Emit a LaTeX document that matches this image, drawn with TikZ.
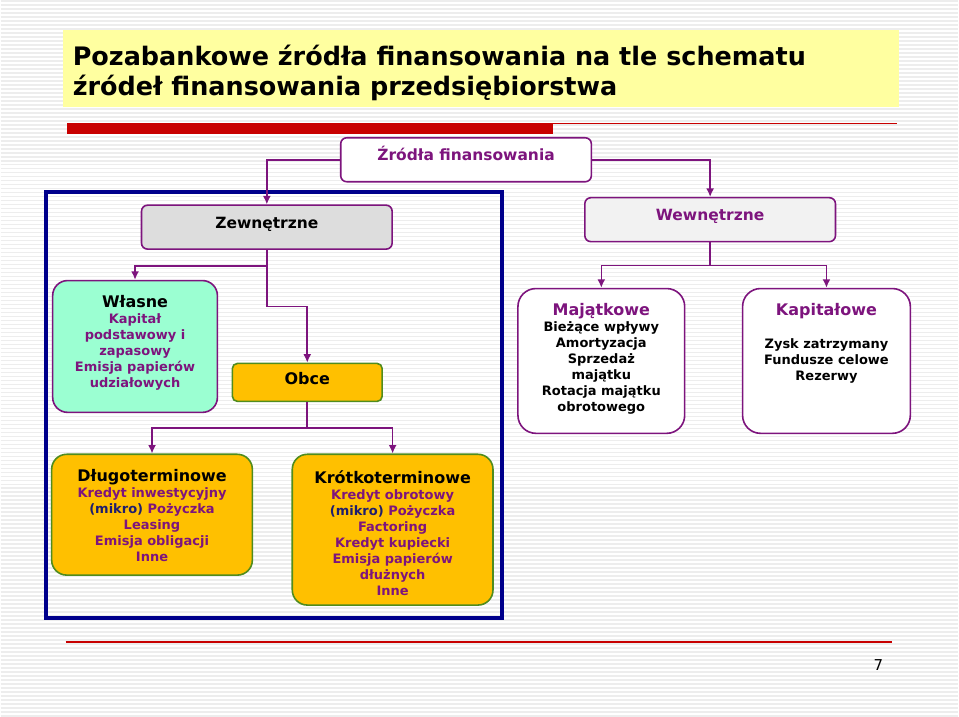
\documentclass[tikz,border=0pt]{standalone}
\usepackage{fontspec}
\setmainfont{DejaVu Sans}
\usetikzlibrary{arrows.meta}
\definecolor{fiolet}{RGB}{125,20,125}
\definecolor{granat}{RGB}{0,0,140}
\definecolor{ciemnyniebieski}{RGB}{30,30,110}
\definecolor{czerwony}{RGB}{200,0,0}
\definecolor{zolty}{RGB}{255,255,160}
\definecolor{pomarancz}{RGB}{255,192,0}
\definecolor{zielony}{RGB}{80,140,30}
\definecolor{morski}{RGB}{155,255,210}
\definecolor{szary}{RGB}{221,221,221}
\definecolor{jasnoszary}{RGB}{242,242,242}
\newcommand{\naglowek}{\fontsize{16}{16}\selectfont}

\begin{document}
\begin{tikzpicture}[x=1pt,y=-1pt]
\tikzstyle{lien}=[-{Latex[length=8.5pt,width=8pt]},draw=fiolet,line width=1.6pt]
\tikzset{kafel/.style={draw=#1,line width=1.6pt,inner sep=0pt,rounded corners=15pt},
kafel/.default={fiolet},
belka/.style={draw=fiolet,line width=1.6pt,inner sep=0pt,rounded corners=6pt,
  minimum width=251pt,minimum height=44pt,text height=11pt,text depth=9pt,
  font=\bfseries\fontsize{15.5}{17}\selectfont},
napis/.style={align=center,inner sep=0pt,font=\bfseries\fontsize{13}{16}\selectfont},
tytul/.style={inner sep=0pt,font=\bfseries\fontsize{25.5}{30}\selectfont}}

% tlo w paski
\fill[white] (0,0) rectangle (959,717);
\foreach \y in {1,5,...,717} \draw[gray!14,line width=1.5pt] (0,\y) -- (959,\y);
\useasboundingbox (0,0) rectangle (959,717);

% naglowek
\fill[zolty] (62,30) rectangle (900,107);
\node[tytul,anchor=base west] (tytul1) at (72,66) {Pozabankowe źródła finansowania na tle schematu};
\node[tytul,anchor=base west] (tytul2) at (72,96) {źródeł finansowania przedsiębiorstwa};
\fill[czerwony] (66,123) rectangle (553,134);
\draw[czerwony,line width=1.5pt] (553,123.5) -- (898,123.5);

% ramka zrodel zewnetrznych
\draw[granat,line width=4pt] (45,192) rectangle (502,619);

% gorne poziomy
\node[belka,fill=white,text=fiolet] (zrodla) at (466,160) {Źródła finansowania};
\node[belka,fill=szary] (zewn) at (266.5,227.5) {Zewnętrzne};
\node[belka,fill=jasnoszary,text=fiolet] (wewn) at (710.5,220) {Wewnętrzne};

\draw[lien] (zrodla.west) -| (zewn.north);
\draw[lien] (zrodla.east) -| (wewn.north);

% zewnetrzne
\node[kafel,fill=morski,minimum width=165pt,minimum height=132pt] (wlasne) at (134.5,347) {};
\node[napis,text=fiolet] (wlasneT) at (134.5,343.5)
  {{\color{black}\naglowek Własne}\\Kapitał\\podstawowy i\\zapasowy\\Emisja papierów\\udziałowych};
\node[kafel=zielony,fill=pomarancz,rounded corners=5pt,minimum width=150pt,minimum height=38pt,
  text height=11pt,text depth=7pt,font=\bfseries\fontsize{16}{17}\selectfont] (obce) at (307,383) {Obce};
\coordinate (zgiecie) at (266.5,307);

\draw[lien] (zewn.south) -- ++(0,16) -| (wlasne.north);
\draw[lien] (zewn.south) -- (zgiecie) -| (obce.north);

\node[kafel=zielony,fill=pomarancz,minimum width=201pt,minimum height=121pt] (dlugo) at (151.5,515.5) {};
\node[napis,text=fiolet] (dlugoT) at (151.5,516.5)
  {{\color{black}\naglowek Długoterminowe}\\Kredyt inwestycyjny\\{\color{ciemnyniebieski}(mikro)} Pożyczka\\Leasing\\Emisja obligacji\\Inne};
\node[kafel=zielony,fill=pomarancz,minimum width=201pt,minimum height=151pt] (krotko) at (392.5,530.5) {};
\node[napis,text=fiolet] (krotkoT) at (392.5,534)
  {{\color{black}\naglowek Krótkoterminowe}\\Kredyt obrotowy\\{\color{ciemnyniebieski}(mikro)} Pożyczka\\Factoring\\Kredyt kupiecki\\Emisja papierów\\dłużnych\\Inne};

\draw[lien] (obce.south) -- ++(0,26) -| (dlugo.north);
\draw[lien] (obce.south) -- ++(0,26) -| (krotko.north);

% wewnetrzne
\node[kafel,fill=white,rounded corners=18pt,minimum width=167pt,minimum height=145pt] (majatek) at (601.5,361.5) {};
\node[napis] (majatekT) at (601.5,359.5)
  {{\color{fiolet}\naglowek Majątkowe}\\Bieżące wpływy\\Amortyzacja\\Sprzedaż\\majątku\\Rotacja majątku\\obrotowego};
\node[kafel,fill=white,rounded corners=18pt,minimum width=168pt,minimum height=145pt] (kapital) at (827,361.5) {};
\node[napis] (kapitalT) at (827,344)
  {{\color{fiolet}\naglowek Kapitałowe}\\[17pt]Zysk zatrzymany\\Fundusze celowe\\Rezerwy};

\draw[lien] (wewn.south) -- ++(0,23) -| (majatek.north);
\draw[lien] (wewn.south) -- ++(0,23) -| (kapital.north);

% stopka
\draw[czerwony,line width=2.2pt] (65,643) -- (893,643);
\node[font=\fontsize{15}{16}\selectfont] (nr) at (879,666) {7};
\end{tikzpicture}
\end{document}
